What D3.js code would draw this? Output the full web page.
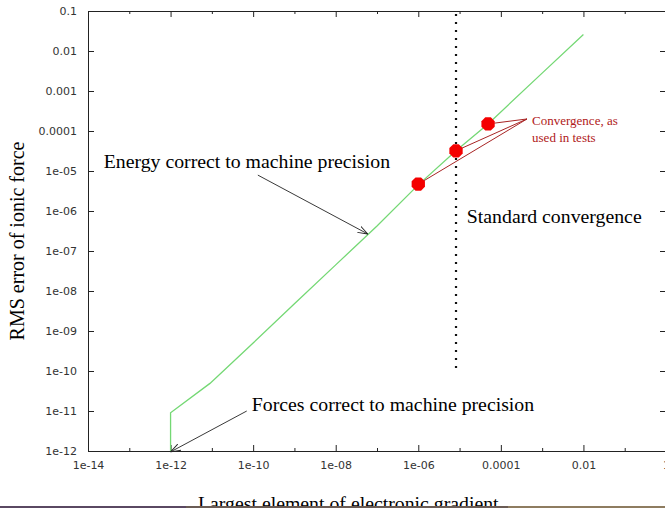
<!DOCTYPE html>
<html>
<head>
<meta charset="utf-8">
<script src="https://cdn.jsdelivr.net/npm/d3@7"></script>
<style>
  html, body { margin: 0; padding: 0; background: #fff; overflow: hidden; }
  svg { display: block; }
</style>
</head>
<body>
<svg id="chart" width="665" height="508"></svg>
<script>
// Largest electronic-gradient element vs RMS ionic-force error
const gradient = [1e-12, 1e-12, 9e-12, 1e-10, 1e-9, 1e-8, 1e-7, 1e-6, 8.2e-6, 4.9e-5, 1e-3, 1e-2];
const forceErr = [1e-12, 9e-12, 4.9e-11, 5e-10, 4.8e-9, 4.5e-8, 4.2e-7, 4.5e-6, 3.2e-5, 1.5e-4, 2.8e-3, 2.6e-2];

// Convergence thresholds used in the tests
const testGradient = [1e-6, 8.2e-6, 4.9e-5];
const testForceErr = [4.7e-6, 3.2e-5, 1.5e-4];

// Standard convergence threshold (vertical dotted line)
const standardGradient = 8.2e-6;

// Axis ticks
const xMajorTicks = [1e-14, 1e-12, 1e-10, 1e-8, 1e-6, 1e-4, 1e-2, 1];
const xMajorLabels = ["1e-14", "1e-12", "1e-10", "1e-08", "1e-06", "0.0001", "0.01", "1"];
const xMinorTicks = [1e-13, 1e-11, 1e-9, 1e-7, 1e-5, 1e-3, 1e-1];
const yTicks = [1e-1, 1e-2, 1e-3, 1e-4, 1e-5, 1e-6, 1e-7, 1e-8, 1e-9, 1e-10, 1e-11, 1e-12];
const yLabels = ["0.1", "0.01", "0.001", "0.0001", "1e-05", "1e-06", "1e-07", "1e-08", "1e-09", "1e-10", "1e-11", "1e-12"];

const svg = d3.select("#chart");
const plotL = 88, plotR = 666, plotT = 11, plotB = 451;

const x = d3.scaleLog().domain([1e-14, 1]).range([plotL, plotR]);
const y = d3.scaleLog().domain([1e-12, 0.1]).range([plotB, plotT]);

const serif = "'Liberation Serif', 'Times New Roman', serif";
const sans = "'DejaVu Sans', Verdana, sans-serif";
const bigText = 19.8;

// arrowhead
const defs = svg.append("defs");
defs.append("marker")
  .attr("id", "arrow").attr("viewBox", "0 0 10 8")
  .attr("refX", 10).attr("refY", 4)
  .attr("markerWidth", 10).attr("markerHeight", 8)
  .attr("markerUnits", "userSpaceOnUse")
  .attr("orient", "auto")
  .append("path").attr("d", "M0,0.5 L10,4 L0,7.5")
  .attr("fill", "none").attr("stroke", "#222").attr("stroke-width", 0.9);

// axes
function styleAxis(g) {
  g.select(".domain").remove();
  g.selectAll(".tick line").attr("stroke", "#222").attr("stroke-width", 1);
  g.selectAll(".tick text").attr("font-family", sans).attr("font-size", 11).attr("fill", "#333");
}

const xLabelOf = v => xMajorLabels[xMajorTicks.indexOf(v)];
const yLabelOf = v => yLabels[yTicks.indexOf(v)];

svg.append("g").attr("transform", `translate(0,${plotB})`)
  .call(d3.axisBottom(x).tickValues(xMajorTicks).tickFormat(xLabelOf).tickSizeInner(-6).tickSizeOuter(0).tickPadding(10))
  .call(styleAxis);
svg.append("g").attr("transform", `translate(0,${plotB})`)
  .call(d3.axisBottom(x).tickValues(xMinorTicks).tickFormat("").tickSizeInner(-3).tickSizeOuter(0))
  .call(styleAxis);
svg.append("g").attr("transform", `translate(0,${plotT})`)
  .call(d3.axisTop(x).tickValues(xMajorTicks).tickFormat("").tickSizeInner(-6).tickSizeOuter(0))
  .call(styleAxis);
svg.append("g").attr("transform", `translate(0,${plotT})`)
  .call(d3.axisTop(x).tickValues(xMinorTicks).tickFormat("").tickSizeInner(-3).tickSizeOuter(0))
  .call(styleAxis);
svg.append("g").attr("transform", `translate(${plotL},0)`)
  .call(d3.axisLeft(y).tickValues(yTicks).tickFormat(yLabelOf).tickSizeInner(-6).tickSizeOuter(0).tickPadding(11))
  .call(styleAxis);
svg.append("g").attr("transform", `translate(${plotR},0)`)
  .call(d3.axisRight(y).tickValues(yTicks).tickFormat("").tickSizeInner(-6).tickSizeOuter(0))
  .call(styleAxis);

// frame
svg.append("rect")
  .attr("x", plotL + 0.5).attr("y", plotT + 0.5)
  .attr("width", plotR - plotL).attr("height", plotB - plotT)
  .attr("fill", "none").attr("stroke", "#222").attr("stroke-width", 1);

// standard convergence line
svg.append("line")
  .attr("x1", x(standardGradient)).attr("x2", x(standardGradient))
  .attr("y1", y(0.1) + 3).attr("y2", y(1e-10))
  .attr("stroke", "#111").attr("stroke-width", 2.2)
  .attr("stroke-dasharray", "2,6");

// error curve
const pts = gradient.map((g, i) => [g, forceErr[i]]);
svg.append("path")
  .datum(pts)
  .attr("fill", "none")
  .attr("stroke", "#74d874")
  .attr("stroke-width", 1.3)
  .attr("d", d3.line().x(d => x(d[0])).y(d => y(d[1])));

// annotation: convergence as used in tests
const apex = [x(4.3e-4), y(2e-4)];
const markerR = 7.2;
testGradient.forEach((g, i) => {
  const cx = x(g), cy = y(testForceErr[i]);
  const dx = apex[0] - cx, dy = apex[1] - cy, len = Math.hypot(dx, dy);
  svg.append("line")
    .attr("x1", apex[0]).attr("y1", apex[1])
    .attr("x2", cx + dx / len * (markerR - 1)).attr("y2", cy + dy / len * (markerR - 1))
    .attr("stroke", "#a82424").attr("stroke-width", 1);
});

const octagon = d3.range(8).map(k => {
  const a = Math.PI / 8 + k * Math.PI / 4;
  return [markerR * Math.cos(a), markerR * Math.sin(a)];
});
svg.selectAll(".test")
  .data(testGradient.map((g, i) => [g, testForceErr[i]]))
  .join("path")
  .attr("class", "test")
  .attr("transform", d => `translate(${x(d[0])},${y(d[1])})`)
  .attr("d", "M" + octagon.map(p => p.join(",")).join("L") + "Z")
  .attr("fill", "#f40000");

const conv = svg.append("text")
  .attr("x", x(5.7e-4)).attr("y", y(1.4e-4))
  .attr("font-family", serif).attr("font-size", 13).attr("fill", "#b02020");
conv.append("tspan").text("Convergence, as");
conv.append("tspan").attr("x", x(5.7e-4)).attr("dy", 16.5).text("used in tests");

// annotation: energy
svg.append("text")
  .attr("x", x(2.4e-14)).attr("y", y(1.19e-5))
  .attr("font-family", serif).attr("font-size", bigText).attr("fill", "#000")
  .text("Energy correct to machine precision");
svg.append("line")
  .attr("x1", x(1.3e-10)).attr("y1", y(7.9e-6))
  .attr("x2", x(6e-8)).attr("y2", y(2.66e-7))
  .attr("stroke", "#222").attr("stroke-width", 0.9)
  .attr("marker-end", "url(#arrow)");

// annotation: forces
svg.append("text")
  .attr("x", x(9.3e-11)).attr("y", y(1e-11))
  .attr("font-family", serif).attr("font-size", bigText).attr("fill", "#000")
  .text("Forces correct to machine precision");
svg.append("line")
  .attr("x1", x(7e-11)).attr("y1", y(1e-11))
  .attr("x2", x(1e-12)).attr("y2", y(0.95e-12))
  .attr("stroke", "#222").attr("stroke-width", 0.9)
  .attr("marker-end", "url(#arrow)");

// annotation: standard convergence
svg.append("text")
  .attr("x", x(1.5e-5)).attr("y", y(5e-7))
  .attr("font-family", serif).attr("font-size", bigText).attr("fill", "#000")
  .text("Standard convergence");

// axis titles
svg.append("text")
  .attr("transform", `translate(23.5,${(plotT + plotB) / 2 + 10}) rotate(-90)`)
  .attr("text-anchor", "middle")
  .attr("font-family", serif).attr("font-size", 20).attr("fill", "#000")
  .text("RMS error of ionic force");
svg.append("text")
  .attr("x", 198).attr("y", 509.5)
  .attr("font-family", serif).attr("font-size", bigText).attr("fill", "#000")
  .text("Largest element of electronic gradient");

// bottom page strip
const strip = [[0, 186, "#5a4862"], [186, 508, "#6a5c55"], [508, 665, "#8e7c60"]];
svg.selectAll(".strip").data(strip).join("rect")
  .attr("class", "strip")
  .attr("x", d => d[0]).attr("width", d => d[1] - d[0])
  .attr("y", 506).attr("height", 2)
  .attr("fill", d => d[2]);
</script>
</body>
</html>
